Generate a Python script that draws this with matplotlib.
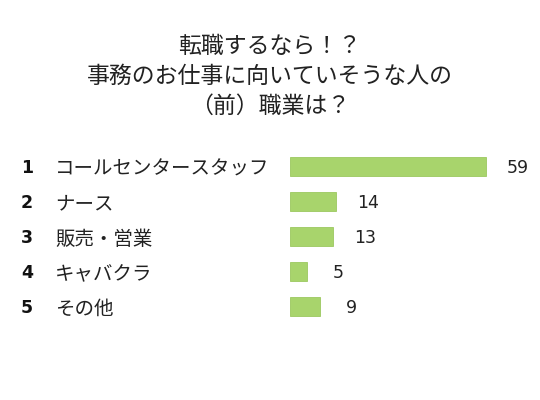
import matplotlib
matplotlib.use('Agg')
import matplotlib.pyplot as plt
import matplotlib.transforms as mtransforms

plt.rcParams['font.family'] = ['Noto Sans CJK JP', 'DejaVu Sans']

# データ
ranks = ['1', '2', '3', '4', '5']
categories = ['コールセンタースタッフ', 'ナース', '販売・営業', 'キャバクラ', 'その他']
values = [59, 14, 13, 5, 9]
title = '転職するなら！？\n事務のお仕事に向いていそうな人の\n（前）職業は？'

W, H = 540, 400
fig = plt.figure(figsize=(W / 100, H / 100), dpi=100)

# 棒グラフの領域 (ピクセル座標から)
ax = fig.add_axes([290 / W, 1 - 324 / H, 250 / W, 175 / H])
y = list(range(len(values)))
ax.barh(y, values, height=0.57, color='#a8d46c', edgecolor='#9cc860', linewidth=0.6)
ax.set_xlim(0, 250 / 3.32)
ax.set_ylim(4.5, -0.5)
ax.axis('off')

for yi, v in zip(y, values):
    ax.annotate(str(v), (v, yi), xytext=(23, -1), textcoords='offset points',
                ha='center', va='center', fontsize=12.5, color='#222222',
                family=['DejaVu Sans'])

# 順位とカテゴリ名
trans = mtransforms.blended_transform_factory(fig.transFigure, ax.transData)
for yi, r, c in zip(y, ranks, categories):
    ax.annotate(r, (27 / W, yi), xycoords=trans, xytext=(0, -1), textcoords='offset points',
                ha='center', va='center', fontsize=12.5, fontweight='bold',
                color='#111111', family=['DejaVu Sans'])
    ax.annotate(c, (55 / W, yi), xycoords=trans, xytext=(0, -2), textcoords='offset points',
                ha='left', va='center', fontsize=14, color='#222222')

fig.text(0.5, 1 - 76 / H, title, ha='center', va='center', fontsize=16.5,
         color='#222222', linespacing=1.38)

fig.savefig('out.png', dpi=100)
